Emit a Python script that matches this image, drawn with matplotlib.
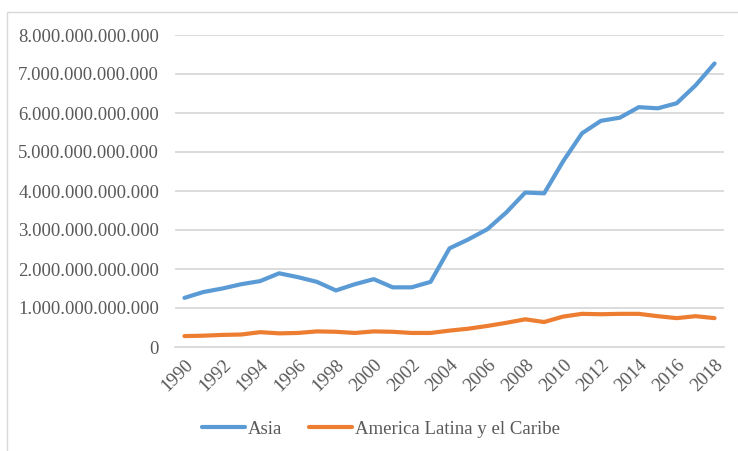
import matplotlib.pyplot as plt
from matplotlib.patches import Rectangle
from matplotlib.ticker import FuncFormatter, MultipleLocator

plt.rcParams['font.family'] = ['Liberation Serif', 'DejaVu Serif']

years = list(range(1990, 2019))
asia = [1.26, 1.41, 1.50, 1.61, 1.69, 1.89, 1.79, 1.67, 1.45, 1.61,
        1.74, 1.53, 1.53, 1.67, 2.53, 2.76, 3.02, 3.45, 3.96, 3.94,
        4.76, 5.48, 5.80, 5.88, 6.15, 6.12, 6.25, 6.71, 7.27]
latam = [0.28, 0.29, 0.31, 0.32, 0.38, 0.35, 0.36, 0.40, 0.39, 0.36,
         0.40, 0.39, 0.36, 0.36, 0.42, 0.47, 0.54, 0.62, 0.71, 0.64,
         0.78, 0.85, 0.84, 0.85, 0.85, 0.79, 0.74, 0.79, 0.74]
asia = [v * 1e12 for v in asia]
latam = [v * 1e12 for v in latam]

W, H = 738, 451
fig = plt.figure(figsize=(W / 100, H / 100), dpi=100)
ax = fig.add_axes([175 / W, 1 - 347 / H, (724 - 175) / W, (347 - 35) / H])

fig.patches.append(Rectangle((7 / W, -0.1), 1, 1 - 12 / H + 0.1, transform=fig.transFigure,
                             fill=False, edgecolor='#D9D9D9', linewidth=1))

ax.plot(years, asia, color='#5B9BD5', lw=3, label='Asia', solid_capstyle='round')
ax.plot(years, latam, color='#ED7D31', lw=3, label='America Latina y el Caribe',
        solid_capstyle='round')

ax.set_xlim(1989.5, 2018.5)
ax.set_ylim(0, 8e12)
ax.yaxis.set_major_locator(MultipleLocator(1e12))
ax.yaxis.set_major_formatter(FuncFormatter(lambda v, p: f"{int(round(v)):,}".replace(',', '.')))
ax.set_xticks(years[::2])
ax.grid(axis='y', color='#D9D9D9', lw=1.3)
ax.set_axisbelow(True)
for s in ['top', 'right', 'left']:
    ax.spines[s].set_visible(False)
ax.spines['bottom'].set_color('#D9D9D9')
ax.spines['bottom'].set_linewidth(1.3)
ax.tick_params(length=0, labelsize=13.5, labelcolor='#595959')
ax.tick_params(axis='y', pad=11.5)
ax.tick_params(axis='x', pad=7)
for lab in ax.get_xticklabels():
    lab.set_rotation(45)
    lab.set_ha('right')
    lab.set_rotation_mode('anchor')

fig.legend(loc='center', bbox_to_anchor=(381 / W, 1 - 429 / H), ncol=2, frameon=False,
           fontsize=13.5, labelcolor='#595959', handlelength=2.3, handletextpad=0.15,
           columnspacing=1.4)
for h in fig.legends[0].legend_handles:
    h.set_solid_capstyle('round')

fig.savefig('out.png', dpi=100)
